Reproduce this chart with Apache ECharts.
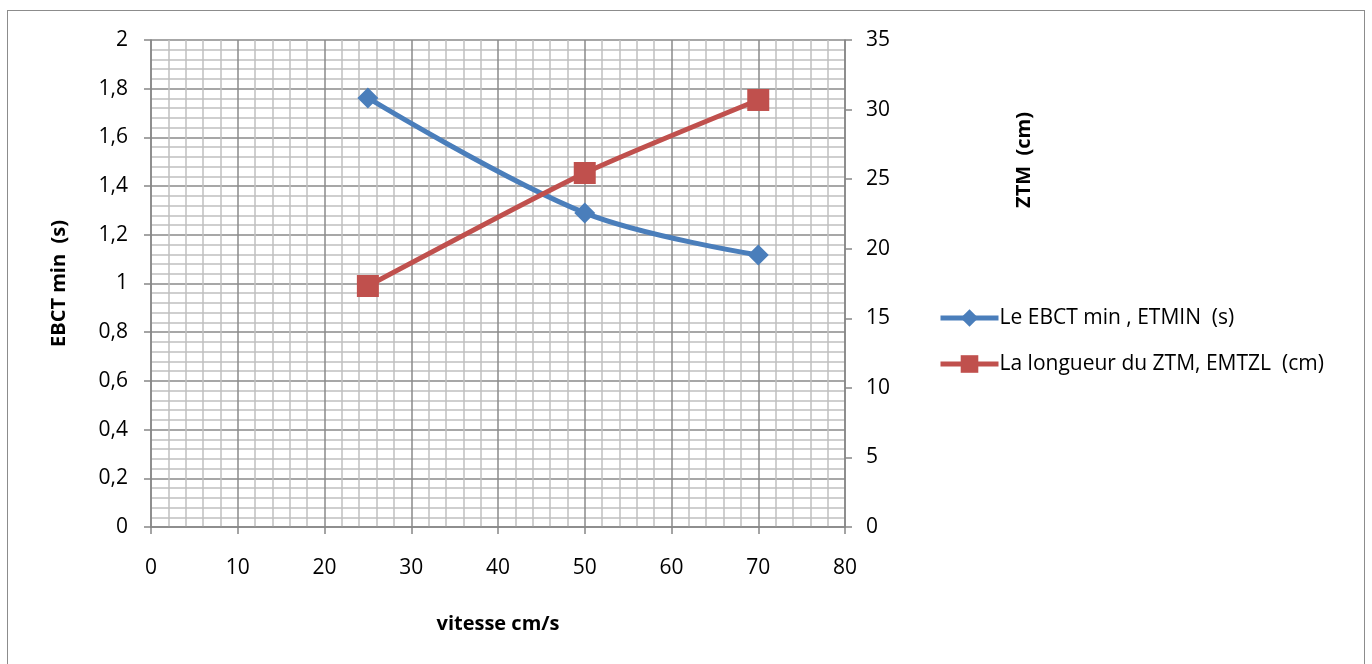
<!DOCTYPE html>
<html>
<head>
<meta charset="utf-8">
<script src="https://cdn.jsdelivr.net/npm/echarts@6/dist/echarts.min.js"></script>
<style>
  html, body { margin: 0; padding: 0; background: #fff; }
  #frame { position: absolute; left: 7px; top: 10px; width: 1358px; height: 660px; border: 1.5px solid #8c8c8c; box-sizing: border-box; }
  #chart { position: absolute; left: 0; top: 0; width: 1372px; height: 664px; }
</style>
</head>
<body>
<div id="frame"></div>
<div id="chart"></div>
<script>
// Flow velocity (cm/s)
const vitesse = [25, 50, 70];
// Minimum empty-bed contact time (s)
const ebctMin = [1.762, 1.29, 1.117];
// Mass transfer zone length (cm)
const ztmLength = [17.32, 25.44, 30.69];

const seriesNames = ['Le EBCT min , ETMIN  (s)', 'La longueur du ZTM, EMTZL  (cm)'];
const FONT = '"Open Sans", "Liberation Sans", sans-serif';
const comma = v => String(Math.round(v * 10) / 10).replace('.', ',');

const chart = echarts.init(document.getElementById('chart'));
chart.setOption({
  animation: false,
  textStyle: { fontFamily: FONT },
  grid: { left: 151, right: 527, top: 40, bottom: 137, containLabel: false },
  legend: {
    orient: 'vertical',
    left: 933, top: 302,
    itemGap: 24, itemWidth: 58, itemHeight: 22,
    lineStyle: { width: 5 },
    textStyle: { fontSize: 21, lineHeight: 22, color: '#000', fontFamily: FONT, padding: [0, 0, 0, -4] },
    data: seriesNames
  },
  graphic: [{
    type: 'text', left: 1014, top: 112, rotation: Math.PI / 2,
    style: { text: 'ZTM  (cm)', font: 'bold 20px ' + FONT, fill: '#000' }
  }],
  xAxis: {
    type: 'value', min: 0, max: 80, interval: 10,
    name: 'vitesse cm/s', nameLocation: 'middle', nameGap: 87,
    nameTextStyle: { fontSize: 20, fontWeight: 'bold', color: '#000' },
    axisLine: { show: true, lineStyle: { color: '#868686', width: 1.5 } },
    axisTick: { show: true, length: 7, lineStyle: { color: '#868686', width: 1.5 } },
    axisLabel: { fontSize: 21, color: '#000', margin: 31 },
    splitLine: { show: true, lineStyle: { color: '#8a8a8a', width: 1.5 } },
    minorTick: { show: false, splitNumber: 5 },
    minorSplitLine: { show: true, lineStyle: { color: '#c0c0c0', width: 1.5 } }
  },
  yAxis: [
    {
      type: 'value', min: 0, max: 2, interval: 0.2,
      name: 'EBCT min  (s)', nameLocation: 'middle', nameGap: 82, nameRotate: 90,
      nameTextStyle: { fontSize: 20, fontWeight: 'bold', color: '#000' },
      axisLine: { show: true, lineStyle: { color: '#868686', width: 1.5 } },
      axisTick: { show: true, length: 7, lineStyle: { color: '#868686', width: 1.5 } },
      axisLabel: { fontSize: 21, color: '#000', margin: 23, formatter: comma },
      splitLine: { show: true, lineStyle: { color: '#8a8a8a', width: 1.5 } },
      minorTick: { show: false, splitNumber: 5 },
      minorSplitLine: { show: true, lineStyle: { color: '#c0c0c0', width: 1.5 } }
    },
    {
      type: 'value', min: 0, max: 35, interval: 5, position: 'right',
      axisLine: { show: true, lineStyle: { color: '#868686', width: 1.5 } },
      axisTick: { show: true, length: 7, lineStyle: { color: '#868686', width: 1.5 } },
      axisLabel: { fontSize: 21, color: '#000', margin: 21 },
      splitLine: { show: false }
    }
  ],
  series: [
    {
      name: seriesNames[0], type: 'line', yAxisIndex: 0, smooth: 0.35,
      data: vitesse.map((v, i) => [v, ebctMin[i]]),
      symbol: 'diamond', symbolSize: 21,
      lineStyle: { color: '#4a7ebb', width: 5 },
      itemStyle: { color: '#4a7ebb' }
    },
    {
      name: seriesNames[1], type: 'line', yAxisIndex: 1, smooth: 0.2,
      data: vitesse.map((v, i) => [v, ztmLength[i]]),
      symbol: 'rect', symbolSize: 22,
      lineStyle: { color: '#c0504d', width: 5 },
      itemStyle: { color: '#c0504d' }
    }
  ]
});
</script>
</body>
</html>
